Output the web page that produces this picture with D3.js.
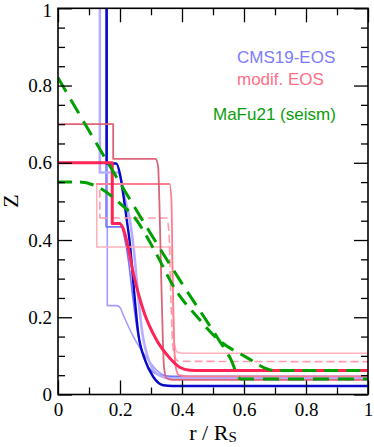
<!DOCTYPE html>
<html>
<head>
<meta charset="utf-8">
<script src="https://cdn.jsdelivr.net/npm/d3@7"></script>
<style>
  body { margin: 0; background: #fff; }
  svg { display: block; }
</style>
</head>
<body>
<div id="container"></div>
<script>
let width = 374;
let height = 447;

// radius r/Rs and heavy element fraction Z
let cms_dark = [[0.157,1],[0.157,0.598],[0.188,0.598],[0.2,0.57],[0.212,0.51],[0.222,0.451],[0.232,0.39],[0.243,0.29],[0.259,0.158],[0.281,0.089],[0.307,0.046],[0.34,0.024],[0.37,0.022],[1,0.022]];
let cms_lav = [[0.135,1],[0.135,0.575],[0.195,0.575],[0.205,0.55],[0.215,0.51],[0.232,0.451],[0.246,0.365],[0.258,0.26],[0.272,0.16],[0.295,0.085],[0.325,0.05],[0.36,0.042],[1,0.041]];
let cms_mid = [[0.155,1],[0.155,0.434],[0.205,0.434],[0.216,0.4],[0.227,0.348],[0.24,0.26],[0.255,0.17],[0.275,0.1],[0.3,0.063],[0.335,0.049],[0.37,0.047],[1,0.047]];
let cms_low = [[0.159,1],[0.159,0.23],[0.19,0.23],[0.2,0.225],[0.211,0.205],[0.243,0.15],[0.265,0.12],[0.286,0.095],[0.31,0.07],[0.33,0.055],[0.36,0.045],[0.4,0.043],[1,0.043]];

let mod_red = [[0,0.6],[0.175,0.6],[0.175,0.443],[0.198,0.443],[0.21,0.43],[0.221,0.4],[0.243,0.314],[0.275,0.219],[0.318,0.141],[0.361,0.094],[0.394,0.07],[0.426,0.063],[0.46,0.062],[1,0.062]];
let mod_mauve = [[0,0.7],[0.178,0.7],[0.178,0.61],[0.315,0.61],[0.323,0.59],[0.327,0.5],[0.333,0.3],[0.338,0.15],[0.342,0.07],[0.35,0.042],[0.37,0.038],[1,0.038]];
let mod_pink = [[0.125,0.545],[0.36,0.545],[0.366,0.5],[0.37,0.3],[0.374,0.15],[0.38,0.07],[0.39,0.05],[0.42,0.047],[1,0.047]];
let mod_light = [[0.125,0.545],[0.125,0.382],[0.363,0.382],[0.368,0.35],[0.372,0.2],[0.376,0.13],[0.385,0.11],[0.4,0.107],[1,0.107]];
let mod_dash = [[0.135,0.53],[0.135,0.457],[0.35,0.457],[0.358,0.42],[0.364,0.25],[0.37,0.13],[0.378,0.095],[0.39,0.086],[1,0.085]];

let seism_a = [[0,0.82],[0.39,0.3],[0.52,0.14],[0.555,0.095],[0.59,0.04],[1,0.04]];
let seism_b = [[0,0.55],[0.07,0.55],[0.13,0.537],[0.2,0.495],[0.25,0.455],[0.31,0.375],[0.38,0.27],[0.45,0.2],[0.52,0.14],[0.6,0.1],[0.7,0.062],[1,0.062]];

let x_major = [0, 0.2, 0.4, 0.6, 0.8, 1];
let x_minor = [0.1, 0.3, 0.5, 0.7, 0.9];
let y_major = [0, 0.2, 0.4, 0.6, 0.8, 1];
let y_minor = [0.05, 0.1, 0.15, 0.25, 0.3, 0.35, 0.45, 0.5, 0.55, 0.65, 0.7, 0.75, 0.85, 0.9, 0.95];

let legend_labels = ["CMS19-EOS", "modif. EOS", "MaFu21 (seism)"];

let x = d3.scaleLinear().domain([0, 1]).range([58, 368]);
let y = d3.scaleLinear().domain([0, 1]).range([394.5, 8.3]);

let svg = d3.select("#container").append("svg")
  .attr("width", width)
  .attr("height", height);

svg.append("clipPath").attr("id", "plot-clip")
  .append("rect")
  .attr("x", x(0)).attr("y", y(1))
  .attr("width", x(1) - x(0)).attr("height", y(0) - y(1));

let smooth = d3.line().x(d => x(d[0])).y(d => y(d[1])).curve(d3.curveMonotoneX);
let straight = d3.line().x(d => x(d[0])).y(d => y(d[1]));

// vertical jumps are drawn straight, the rest as smooth runs
function profile_path(pts) {
  let d = "";
  let run = [pts[0]];
  for (let i = 1; i < pts.length; i++) {
    let p = pts[i], q = pts[i - 1];
    if (p[0] === q[0]) {
      if (run.length > 1) d += smooth(run);
      d += straight([q, p]);
      run = [p];
    } else {
      run.push(p);
    }
  }
  if (run.length > 1) d += smooth(run);
  return d;
}

const g = svg.append("g").attr("clip-path", "url(#plot-clip)");

let curves = [
  { data: cms_low, color: "#a49cff", w: 1.6 },
  { data: cms_mid, color: "#7474ff", w: 1.6 },
  { data: cms_lav, color: "#b8aeff", w: 2.6 },
  { data: cms_dark, color: "#0808c8", w: 2.4 },
  { data: mod_light, color: "#ffb2bd", w: 1.6 },
  { data: mod_dash, color: "#ff9cac", w: 1.6, dash: "8,4" },
  { data: mod_pink, color: "#ff7d92", w: 1.8 },
  { data: mod_mauve, color: "#dc6479", w: 1.8 },
  { data: mod_red, color: "#ff2456", w: 3 },
  { data: seism_b, color: "#00a000", w: 3, dash: "14,8" },
  { data: seism_a, color: "#00a000", w: 3, dash: "16,9" }
];

g.selectAll(".profile")
  .data(curves)
  .enter()
  .append("path")
  .attr("class", "profile")
  .attr("d", d => profile_path(d.data))
  .attr("fill", "none")
  .attr("stroke", d => d.color)
  .attr("stroke-width", d => d.w)
  .attr("stroke-dasharray", d => d.dash || null)
  .attr("stroke-linejoin", "round")
  .attr("stroke-linecap", d => d.dash ? "butt" : "round");

// axes, ticks pointing inwards
let tick_font = "'Liberation Serif', 'Times New Roman', serif";

function style_axis(sel) {
  sel.select(".domain").remove();
  sel.selectAll("line").attr("stroke", "#000").attr("stroke-width", 1.3);
  sel.selectAll("text")
    .style("font-family", tick_font)
    .style("font-size", "19px")
    .attr("fill", "#000");
}

let num_fmt = d => d === 0 || d === 1 ? d3.format("d")(d) : d3.format(".1f")(d);

svg.append("g").attr("transform", "translate(0," + y(0) + ")")
  .call(d3.axisBottom(x).tickValues(x_major).tickSizeInner(-14).tickSizeOuter(0).tickPadding(8.5).tickFormat(num_fmt))
  .call(style_axis);
svg.append("g").attr("transform", "translate(0," + y(0) + ")")
  .call(d3.axisBottom(x).tickValues(x_minor).tickSizeInner(-7).tickSizeOuter(0).tickFormat(""))
  .call(style_axis);
svg.append("g").attr("transform", "translate(0," + y(1) + ")")
  .call(d3.axisTop(x).tickValues(x_major).tickSizeInner(-14).tickSizeOuter(0).tickFormat(""))
  .call(style_axis);
svg.append("g").attr("transform", "translate(0," + y(1) + ")")
  .call(d3.axisTop(x).tickValues(x_minor).tickSizeInner(-7).tickSizeOuter(0).tickFormat(""))
  .call(style_axis);

let left_axis = svg.append("g").attr("transform", "translate(" + x(0) + ",0)")
  .call(d3.axisLeft(y).tickValues(y_major).tickSizeInner(-14).tickSizeOuter(0).tickPadding(6).tickFormat(num_fmt))
  .call(style_axis);
// top label sits a bit lower so it stays inside the page
left_axis.selectAll(".tick text").filter(d => d === 1).attr("dy", "0.45em");

svg.append("g").attr("transform", "translate(" + x(0) + ",0)")
  .call(d3.axisLeft(y).tickValues(y_minor).tickSizeInner(-7).tickSizeOuter(0).tickFormat(""))
  .call(style_axis);
svg.append("g").attr("transform", "translate(" + x(1) + ",0)")
  .call(d3.axisRight(y).tickValues(y_major).tickSizeInner(-14).tickSizeOuter(0).tickFormat(""))
  .call(style_axis);
svg.append("g").attr("transform", "translate(" + x(1) + ",0)")
  .call(d3.axisRight(y).tickValues(y_minor).tickSizeInner(-7).tickSizeOuter(0).tickFormat(""))
  .call(style_axis);

svg.append("rect")
  .attr("x", x(0)).attr("y", y(1))
  .attr("width", x(1) - x(0)).attr("height", y(0) - y(1))
  .attr("fill", "none")
  .attr("stroke", "#000")
  .attr("stroke-width", 1.6);

// axis titles
let xlab = svg.append("text")
  .attr("x", (x(0) + x(1)) / 2)
  .attr("y", 440)
  .attr("text-anchor", "middle")
  .style("font-family", tick_font)
  .style("font-size", "22px")
  .attr("fill", "#000");
xlab.append("tspan").text("r / R");
xlab.append("tspan").style("font-size", "15px").attr("dy", 2).text("S");

svg.append("text")
  .attr("transform", "translate(18,201) rotate(-90)")
  .attr("text-anchor", "middle")
  .style("font-family", tick_font)
  .style("font-size", "22px")
  .attr("fill", "#000")
  .text("Z");

// legend texts
let legend_pos = [[237, 63], [237, 85], [213, 120]];
let legend_colors = ["#7b7bff", "#ff6f86", "#0a9e0a"];

svg.selectAll(".legend")
  .data(legend_labels)
  .enter()
  .append("text")
  .attr("class", "legend")
  .attr("x", (d, i) => legend_pos[i][0])
  .attr("y", (d, i) => legend_pos[i][1])
  .style("font-family", "'Liberation Sans', Arial, sans-serif")
  .style("font-size", "17px")
  .attr("fill", (d, i) => legend_colors[i])
  .text(d => d);
</script>
</body>
</html>
